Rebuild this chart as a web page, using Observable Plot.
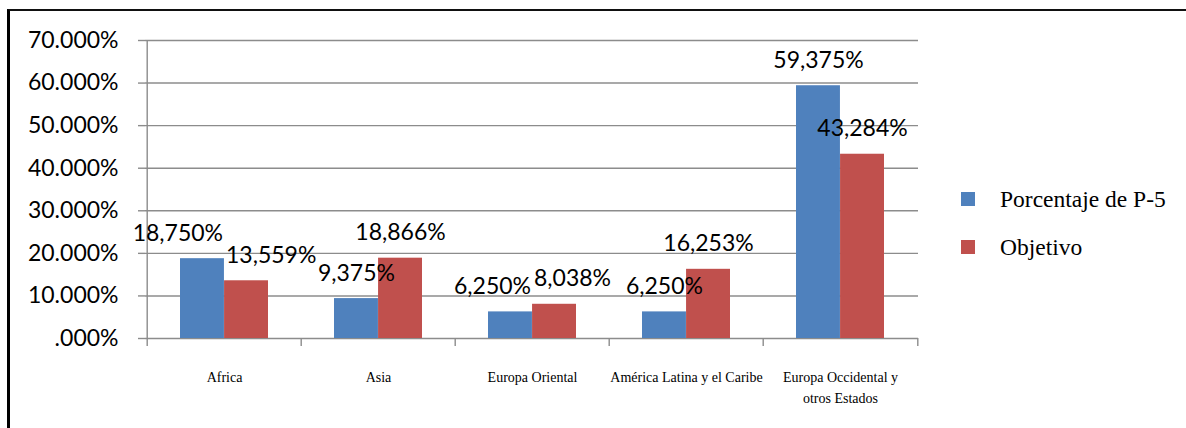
<!DOCTYPE html>
<html>
<head>
<meta charset="utf-8">
<script src="https://cdn.jsdelivr.net/npm/d3@7"></script>
<script src="https://cdn.jsdelivr.net/npm/@observablehq/plot@0.6"></script>
<style>
  html, body { margin: 0; padding: 0; overflow: hidden; background: white; }
  #wrap { position: relative; width: 1186px; height: 428px; }
  #chart { position: absolute; left: 0; top: 0; }
  #frame { position: absolute; left: 7px; top: 9px; width: 1200px; height: 440px;
           border-top: 2px solid #111; border-left: 3px solid #000; pointer-events: none; box-sizing: border-box; }
  #legend { position: absolute; left: 961px; top: 175px; font-family: "Liberation Serif", "Times New Roman", serif;
            font-size: 23.5px; color: #000; }
  .item { display: flex; align-items: center; height: 48px; }
  .sw { width: 14px; height: 14px; margin-right: 25px; }
</style>
</head>
<body>
<div id="wrap">
  <div id="chart"></div>
  <div id="legend"></div>
  <div id="frame"></div>
</div>
<script>
const categories = ["Africa", "Asia", "Europa Oriental", "América Latina y el Caribe", "Europa Occidental y otros Estados"];
const xTickLabels = ["Africa", "Asia", "Europa Oriental", "América Latina y el Caribe", "Europa Occidental y\notros Estados"];
const seriesNames = ["Porcentaje de P-5", "Objetivo"];
const porcentajeP5 = [18.750, 9.375, 6.250, 6.250, 59.375];
const objetivo = [13.559, 18.866, 8.038, 16.253, 43.284];
const yTicks = [0, 10, 20, 30, 40, 50, 60, 70];
const colors = ["#4F81BD", "#C0504D"];

const W = 1186, H = 428, mL = 145, mR = 268, mT = 40, mB = 90;
const pInner = 0.43, pOuter = 0.215;
const step = (W - mL - mR) / (categories.length - pInner + 2 * pOuter);
const bw = step * (1 - pInner);
const yMax = 70;

const blueRows = categories.map((c, i) => ({category: c, value: porcentajeP5[i]}));
const redRows = categories.map((c, i) => ({category: c, value: objetivo[i]}));

const yFmt = d => d === 0 ? ".000%" : d.toFixed(3) + "%";
const lblFmt = d => d.value.toFixed(3).replace(".", ",") + "%";
const gray = "#8c8c8c";
const numFont = "Lato, Carlito, Calibri, sans-serif";
const serifFont = "Liberation Serif";
const lblSize = 23, lblDy = -18;

// Automatic de-overlap of the two value labels within a group
const ctx = document.createElement("canvas").getContext("2d");
ctx.font = lblSize + "px Lato";
const yPx = v => mT + (1 - v / yMax) * (H - mT - mB);
const labelMarks = [];
categories.forEach((c, i) => {
  const b = blueRows[i], r = redRows[i];
  let dxB = -bw / 4, dxR = bw / 4;
  if (Math.abs(yPx(b.value) - yPx(r.value)) < lblSize + 1) {
    const need = (ctx.measureText(lblFmt(b)).width + ctx.measureText(lblFmt(r)).width) / 2 + 3;
    const s = Math.max(0, (need - bw / 2) / 2);
    dxB -= s; dxR += s;
  }
  labelMarks.push(Plot.text([b], {x: "category", y: "value", text: lblFmt, dx: dxB, dy: lblDy, lineAnchor: "bottom",
                                  fontSize: lblSize, fontFamily: numFont, fill: "#000"}));
  labelMarks.push(Plot.text([r], {x: "category", y: "value", text: lblFmt, dx: dxR, dy: lblDy, lineAnchor: "bottom",
                                  fontSize: lblSize, fontFamily: numFont, fill: "#000"}));
});

const chart = Plot.plot({
  width: W, height: H,
  marginLeft: mL, marginRight: mR, marginTop: mT, marginBottom: mB,
  style: {background: "transparent", color: "#000"},
  x: {domain: categories, paddingInner: pInner, paddingOuter: pOuter, label: null, axis: null},
  y: {domain: [0, yMax], label: null},
  marks: [
    Plot.ruleY(yTicks, {stroke: gray, strokeWidth: 1.4}),
    Plot.barY(blueRows, {x: "category", y: "value", fill: colors[0], insetRight: bw / 2}),
    Plot.barY(redRows, {x: "category", y: "value", fill: colors[1], insetLeft: bw / 2}),
    Plot.ruleX([categories[0]], {x: d => d, y1: yMax, y2: 0, dx: -step / 2, insetBottom: -8, stroke: gray, strokeWidth: 1.4}),
    Plot.ruleX(categories.slice(1), {x: d => d, y1: 0, y2: 0, dx: -step / 2, insetBottom: -8, stroke: gray, strokeWidth: 1.4}),
    Plot.ruleX([categories[categories.length - 1]], {x: d => d, y1: 0, y2: 0, dx: step / 2, insetBottom: -8, stroke: gray, strokeWidth: 1.4}),
    Plot.axisY({ticks: yTicks, tickSize: 7, tickPadding: 20, tickFormat: yFmt, stroke: gray, strokeWidth: 1.4,
                fontSize: 23, fontFamily: numFont, fill: "#000"}),
    Plot.text(categories, {x: d => d, text: (d, i) => xTickLabels[i], frameAnchor: "bottom", lineAnchor: "top",
                           dy: 29, fontSize: 14, fontFamily: serifFont, lineHeight: 1.5, fill: "#000"}),
    ...labelMarks
  ]
});
document.getElementById("chart").appendChild(chart);

const legend = document.getElementById("legend");
seriesNames.forEach((name, i) => {
  const item = document.createElement("div");
  item.className = "item";
  const sw = document.createElement("div");
  sw.className = "sw";
  sw.style.background = colors[i];
  const t = document.createElement("span");
  t.textContent = name;
  item.appendChild(sw);
  item.appendChild(t);
  legend.appendChild(item);
});
</script>
</body>
</html>
